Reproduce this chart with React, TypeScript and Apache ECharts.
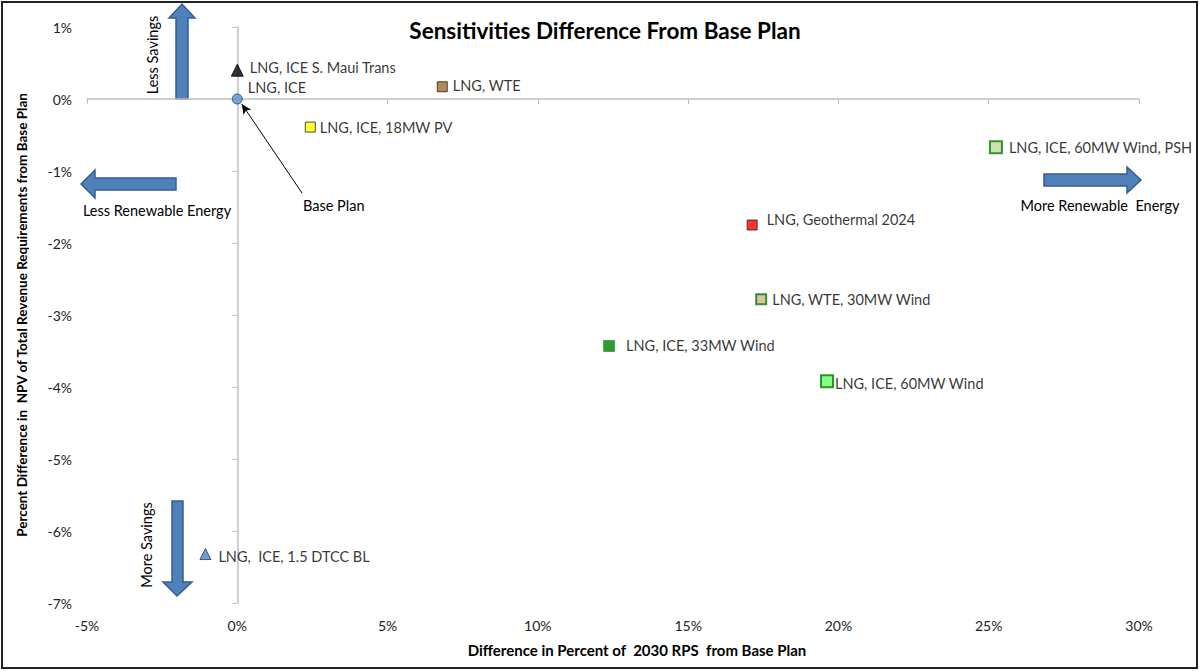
import React, { useEffect, useRef } from "react";
import * as echarts from "echarts";

const names = [
  "LNG, ICE S. Maui Trans",
  "LNG, ICE",
  "LNG, WTE",
  "LNG, ICE, 18MW PV",
  "LNG, ICE, 60MW Wind, PSH",
  "LNG, Geothermal 2024",
  "LNG, WTE, 30MW Wind",
  "LNG, ICE, 33MW Wind",
  "LNG, ICE, 60MW Wind",
  "LNG,  ICE, 1.5 DTCC BL",
];
const rpsDiff = [0, 0, 6.82, 2.43, 25.24, 17.13, 17.43, 12.37, 19.62, -1.06];
const npvDiff = [0.4, 0, 0.17, -0.39, -0.67, -1.75, -2.78, -3.43, -3.92, -6.32];

const xTicks = [-5, 0, 5, 10, 15, 20, 25, 30];
const yTicks = [-7, -6, -5, -4, -3, -2, -1, 0, 1];

const FONT = "Lato, 'Open Sans', sans-serif";

const styles: Record<string, any> = {
  "LNG, ICE S. Maui Trans": { symbol: "triangle", size: 12, fill: "#000000", stroke: "#000000", bw: 1, dist: 6, off: [0, -3] },
  "LNG, ICE": { symbol: "circle", size: 10, fill: "#5B8FD0", stroke: "#1F3B5C", bw: 1, dist: 5, off: [0, -12] },
  "LNG, WTE": { symbol: "rect", size: 10, fill: "#A56A2E", stroke: "#222222", bw: 1, dist: 5, off: [0, -1] },
  "LNG, ICE, 18MW PV": { symbol: "rect", size: 10, fill: "#FFFF00", stroke: "#222222", bw: 1, dist: 4, off: [0, 0] },
  "LNG, ICE, 60MW Wind, PSH": { symbol: "rect", size: 12, fill: "#C4D79B", stroke: "#008000", bw: 2, dist: 6, off: [0, 0] },
  "LNG, Geothermal 2024": { symbol: "rect", size: 10, fill: "#FF0000", stroke: "#222222", bw: 1, dist: 9, off: [0, -6] },
  "LNG, WTE, 30MW Wind": { symbol: "rect", size: 10, fill: "#D8B38F", stroke: "#008000", bw: 2, dist: 5, off: [0, 0] },
  "LNG, ICE, 33MW Wind": { symbol: "rect", size: 11, fill: "#008000", stroke: "#3A9A3A", bw: 1, dist: 11, off: [0, 0] },
  "LNG, ICE, 60MW Wind": { symbol: "rect", size: 12, fill: "#66FF66", stroke: "#008000", bw: 2, dist: 1, off: [0, 2] },
  "LNG,  ICE, 1.5 DTCC BL": { symbol: "triangle", size: 11, fill: "#4F81BD", stroke: "#1F3B5C", bw: 1, dist: 7, off: [0, 2] },
};

const arrowFill = "#4F81BD";
const arrowStroke = "#385D8A";

export default function App() {
  const ref = useRef<HTMLDivElement>(null);
  useEffect(() => {
    document.body.style.margin = "0";
    const chart = echarts.init(ref.current!, null, { renderer: "svg" });

    const data = names.map((n, i) => {
      const s = styles[n];
      return {
        name: n,
        value: [rpsDiff[i], npvDiff[i]],
        symbol: s.symbol,
        symbolSize: s.size,
        itemStyle: { color: s.fill, borderColor: s.stroke, borderWidth: s.bw },
        label: {
          show: true,
          position: "right",
          distance: s.dist,
          offset: s.off,
          formatter: n,
          color: "#000",
          fontSize: 14.5,
          fontFamily: FONT,
        },
      };
    });

    const axisLabel = {
      color: "#222",
      fontSize: 14,
      fontFamily: FONT,
      formatter: (v: number) => `${v}%`,
    };

    const option: any = {
      animation: false,
      backgroundColor: "#ffffff",
      title: {
        text: "Sensitivities Difference From Base Plan",
        left: 600,
        top: 14,
        textAlign: "center",
        textStyle: { fontSize: 22.5, fontWeight: "bold", fontFamily: FONT, color: "#000" },
      },
      grid: { left: 87, right: 60, top: 27, bottom: 68 },
      xAxis: [
        {
          type: "value",
          position: "bottom",
          min: -5,
          max: 30,
          interval: 5,
          axisLine: { show: false, onZero: false },
          axisTick: { show: false },
          splitLine: { show: false },
          axisLabel: { ...axisLabel, margin: 15 },
          name: "Difference in Percent of  2030 RPS  from Base Plan",
          nameLocation: "middle",
          nameGap: 39,
          nameTextStyle: { fontSize: 15, fontWeight: "bold", fontFamily: FONT, color: "#000", padding: [0, 0, 0, 48] },
        },
        {
          type: "value",
          position: "bottom",
          min: -5,
          max: 30,
          interval: 5,
          axisLine: { show: true, onZero: true, onZeroAxisIndex: 0, lineStyle: { color: "#BFBFBF", width: 1.5 } },
          axisTick: { show: true, length: 5, lineStyle: { color: "#BFBFBF" } },
          splitLine: { show: false },
          axisLabel: { show: false },
        },
      ],
      yAxis: [
        {
          type: "value",
          position: "left",
          min: -7,
          max: 1,
          interval: 1,
          axisLine: { show: false, onZero: false },
          axisTick: { show: false },
          splitLine: { show: false },
          axisLabel: { ...axisLabel, margin: 15 },
          name: "Percent Difference in  NPV of Total Revenue Requirements from Base Plan",
          nameLocation: "middle",
          nameGap: 58,
          nameTextStyle: { fontSize: 13.5, fontWeight: "bold", fontFamily: FONT, color: "#000" },
        },
        {
          type: "value",
          position: "left",
          min: -7,
          max: 1,
          interval: 1,
          axisLine: { show: true, onZero: true, onZeroAxisIndex: 0, lineStyle: { color: "#BFBFBF", width: 1.5 } },
          axisTick: { show: true, length: 5, lineStyle: { color: "#BFBFBF" } },
          splitLine: { show: false },
          axisLabel: { show: false },
        },
      ],
      series: [
        {
          type: "scatter",
          xAxisIndex: 0,
          yAxisIndex: 0,
          data,
          z: 5,
          markLine: {
            silent: true,
            symbol: ["none", "arrow"],
            symbolSize: [7, 10],
            label: { show: false },
            lineStyle: { color: "#000", width: 1, type: "solid" },
            data: [[{ coord: [2.16, -1.31] }, { coord: [0.15, -0.07] }]],
          },
        },
      ],
      graphic: [
        {
          type: "rect",
          shape: { x: 2, y: 2, width: 1195, height: 666 },
          style: { fill: "none", stroke: "#222", lineWidth: 2 },
          silent: true,
        },
        {
          type: "polygon",
          shape: { points: [[176, 99], [176, 18], [169, 18], [182, 4], [195, 18], [188, 18], [188, 99]] },
          style: { fill: arrowFill, stroke: arrowStroke, lineWidth: 1.5 },
        },
        {
          type: "polygon",
          shape: { points: [[176, 178], [95, 178], [95, 170], [81, 184], [95, 198], [95, 190], [176, 190]] },
          style: { fill: arrowFill, stroke: arrowStroke, lineWidth: 1.5 },
        },
        {
          type: "polygon",
          shape: { points: [[1044, 174], [1127, 174], [1127, 167], [1141, 180], [1127, 193], [1127, 186], [1044, 186]] },
          style: { fill: arrowFill, stroke: arrowStroke, lineWidth: 1.5 },
        },
        {
          type: "polygon",
          shape: { points: [[172, 501], [183, 501], [183, 582], [192, 582], [177, 596], [163, 582], [172, 582]] },
          style: { fill: arrowFill, stroke: arrowStroke, lineWidth: 1.5 },
        },
        {
          type: "text",
          x: 152,
          y: 55,
          rotation: Math.PI / 2,
          style: { text: "Less Savings", fontSize: 14.5, fontFamily: FONT, fill: "#000", align: "center", verticalAlign: "middle" },
        },
        {
          type: "text",
          x: 146,
          y: 545,
          rotation: Math.PI / 2,
          style: { text: "More Savings", fontSize: 14.5, fontFamily: FONT, fill: "#000", align: "center", verticalAlign: "middle" },
        },
        {
          type: "text",
          x: 157,
          y: 210,
          style: { text: "Less Renewable Energy", fontSize: 14.5, fontFamily: FONT, fill: "#000", align: "center", verticalAlign: "middle" },
        },
        {
          type: "text",
          x: 1100,
          y: 205,
          style: { text: "More Renewable  Energy", fontSize: 14.5, fontFamily: FONT, fill: "#000", align: "center", verticalAlign: "middle" },
        },
        {
          type: "text",
          x: 303,
          y: 205,
          style: { text: "Base Plan", fontSize: 14.5, fontFamily: FONT, fill: "#000", align: "left", verticalAlign: "middle" },
        },
      ],
    };
    chart.setOption(option);
    return () => chart.dispose();
  }, []);
  return <div ref={ref} style={{ width: 1199, height: 671 }} />;
}
